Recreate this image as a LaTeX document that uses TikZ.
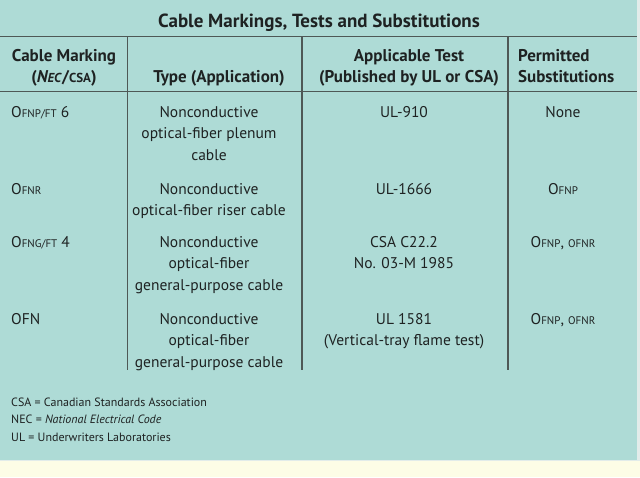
\documentclass[tikz,border=0pt]{standalone}
\usepackage{fontspec}
\setmainfont{PT Sans}
\definecolor{bgteal}{HTML}{AEDBD6}
\definecolor{bgyel}{HTML}{FDFDE6}
\definecolor{edgec}{HTML}{E2ECEA}
\definecolor{rulec}{HTML}{4E5856}
\definecolor{txt}{HTML}{1E2222}
\newcommand\smc[1]{{\fontsize{11}{11}\selectfont #1}}
\newcommand\smcb[1]{{\fontsize{13}{13}\selectfont #1}}
\tikzset{
  body/.style={font=\fontsize{15.5}{21.5}\selectfont, text=txt, inner sep=0pt, align=center, anchor=base},
  bodyl/.style={font=\fontsize{15.5}{21.5}\selectfont, text=txt, inner sep=0pt, align=left, anchor=base west},
  head/.style={font=\bfseries\fontsize{17}{21}\selectfont, text=txt, inner sep=0pt, align=center, anchor=base},
  headl/.style={font=\bfseries\fontsize{17}{21}\selectfont, text=txt, inner sep=0pt, align=left, anchor=base west},
  foot/.style={font=\fontsize{12}{17.5}\selectfont, text=txt, inner sep=0pt, align=left, anchor=base west},
  rule/.style={draw=rulec, line width=1.3pt},
}
\begin{document}
\begin{tikzpicture}[x=1pt,y=-1pt]
\useasboundingbox (0,0) rectangle (640,477);
\fill[bgyel] (0,0) rectangle (640,477);
\fill[edgec] (0,0) rectangle (640,461);
\fill[bgteal] (0,0) rectangle (637,460);
% title
\node[font=\bfseries\fontsize{19}{19}\selectfont, text=txt, inner sep=0pt, anchor=base] (title) at (319,27) {Cable Markings, Tests and Substitutions};
% rules
\coordinate (h1l) at (0,36.5); \coordinate (h1r) at (637,36.5);
\coordinate (h2l) at (0,91.5); \coordinate (h2r) at (637,91.5);
\draw[rule] (h1l) -- (h1r);
\draw[rule] (h2l) -- (h2r);
\coordinate (v1t) at (127.5,36.5); \coordinate (v1b) at (127.5,370);
\coordinate (v2t) at (302,36.5); \coordinate (v2b) at (302,370);
\coordinate (v3t) at (508,36.5); \coordinate (v3b) at (508,370);
\draw[rule] (v1t) -- (v1b);
\draw[rule] (v2t) -- (v2b);
\draw[rule] (v3t) -- (v3b);
% header (multi-line nodes: base = last line)
\node[head] (hc1) at (64,82) {Cable Marking\\(\textit{N\smcb{EC}}/\smcb{CSA})};
\node[head] (hc2) at (219,82) {Type (Application)};
\node[head] (hc3) at (409,82) {Applicable Test\\(Published by UL or CSA)};
\node[headl] (hc4) at (518,82) {Permitted\\Substitutions};
% row 1
\node[bodyl] (r1c1) at (11,117) {O\smc{FNP/FT} 6};
\node[body] (r1c2) at (209,160) {Nonconductive\\optical-fiber plenum\\cable};
\node[body] (r1c3) at (404,117) {UL-910};
\node[body] (r1c4) at (563,117) {None};
% row 2
\node[bodyl] (r2c1) at (11,194) {O\smc{FNR}};
\node[body] (r2c2) at (209,215.5) {Nonconductive\\optical-fiber riser cable};
\node[body] (r2c3) at (404,194) {UL-1666};
\node[body] (r2c4) at (563,194) {O\smc{FNP}};
% row 3
\node[bodyl] (r3c1) at (11,247) {O\smc{FNG/FT} 4};
\node[body] (r3c2) at (209,290) {Nonconductive\\optical-fiber\\general-purpose cable};
\node[body] (r3c3) at (404,268.5) {CSA C22.2\\No. 03-M 1985};
\node[body] (r3c4) at (563,247) {O\smc{FNP}, \smc{OFNR}};
% row 4
\node[bodyl] (r4c1) at (11,324) {OFN};
\node[body] (r4c2) at (209,367) {Nonconductive\\optical-fiber\\general-purpose cable};
\node[body] (r4c3) at (404,345.5) {UL 1581\\(Vertical-tray flame test)};
\node[body] (r4c4) at (563,324) {O\smc{FNP}, \smc{OFNR}};
% footer
\node[foot] (f1) at (11,406) {CSA = Canadian Standards Association};
\node[foot] (f2) at (11,423.5) {NEC = \textit{National Electrical Code}};
\node[foot] (f3) at (11,441) {UL = Underwriters Laboratories};
\end{tikzpicture}
\end{document}
